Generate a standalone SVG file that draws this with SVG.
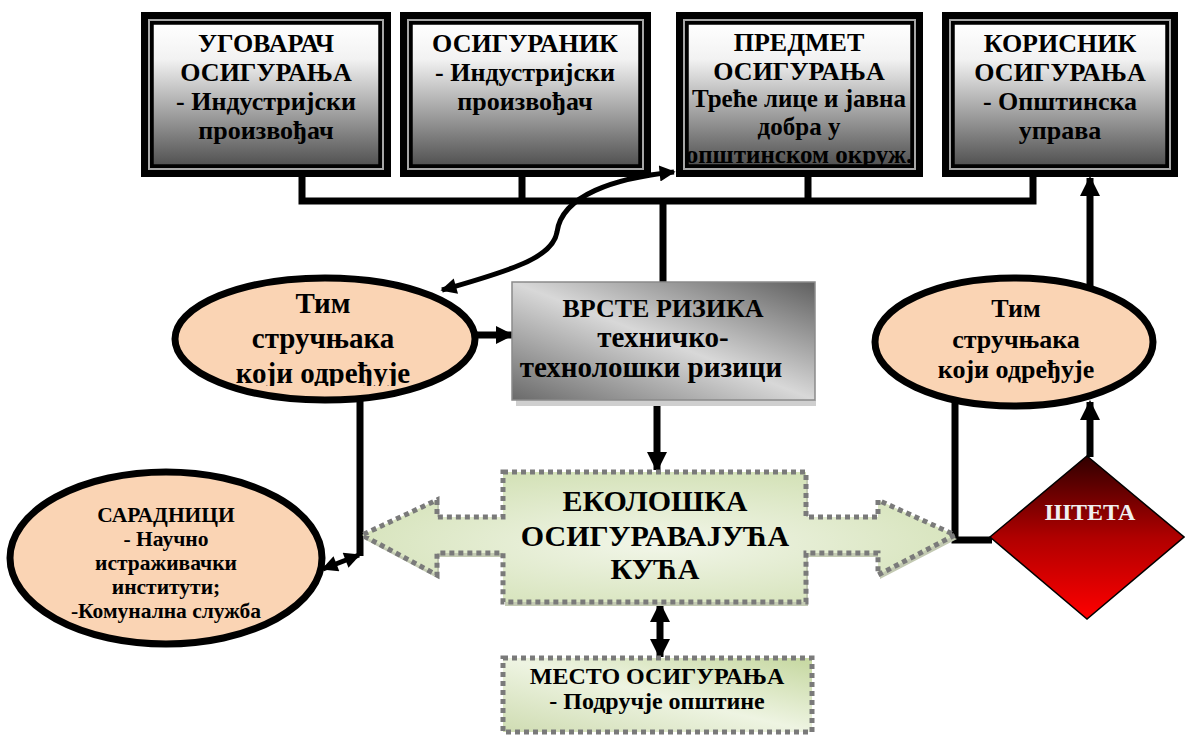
<svg xmlns="http://www.w3.org/2000/svg" width="1185" height="736" viewBox="0 0 1185 736">
  <style>
    .t { font-family: "Liberation Serif", "Times New Roman", serif; font-weight: bold; fill: #000; text-anchor: middle; }
    .frame { fill: #000; }
    .frameLine { fill: none; stroke: #a6a6a6; stroke-width: 2; }
    .inner { fill: url(#boxGrad); stroke: #000; stroke-width: 1.5; }
    .oval { fill: #fad4b4; stroke: #000; stroke-width: 7; }
    .wire { fill: none; stroke: #000; stroke-width: 7; }
    .dotted { stroke: #7a7a7a; stroke-width: 5; stroke-dasharray: 5 4; }
  </style>
  <defs>
    <linearGradient id="boxGrad" x1="0" y1="0" x2="0" y2="1">
      <stop offset="0" stop-color="#ffffff"/>
      <stop offset="0.25" stop-color="#f2f2f2"/>
      <stop offset="1" stop-color="#525252"/>
    </linearGradient>
    <linearGradient id="riskGrad" x1="1" y1="0" x2="0" y2="1">
      <stop offset="0" stop-color="#5f5f5f"/>
      <stop offset="0.5" stop-color="#d8d8d8"/>
      <stop offset="1" stop-color="#6a6a6a"/>
    </linearGradient>
    <radialGradient id="ecoGrad" cx="0.5" cy="0.55" r="0.6">
      <stop offset="0" stop-color="#f2f6e9"/>
      <stop offset="1" stop-color="#d3e1b6"/>
    </radialGradient>
    <linearGradient id="placeGrad" x1="1" y1="0" x2="0" y2="1">
      <stop offset="0" stop-color="#c5d79f"/>
      <stop offset="0.5" stop-color="#eef4e2"/>
      <stop offset="1" stop-color="#cfdcb2"/>
    </linearGradient>
    <linearGradient id="lossGrad" x1="0" y1="0" x2="0" y2="1">
      <stop offset="0" stop-color="#300000"/>
      <stop offset="0.5" stop-color="#b00000"/>
      <stop offset="1" stop-color="#ff0000"/>
    </linearGradient>
    <marker id="head" viewBox="0 0 10 10" refX="9" refY="5" markerUnits="userSpaceOnUse" markerWidth="18" markerHeight="20" orient="auto-start-reverse">
      <path d="M0,0 L10,5 L0,10 Z" fill="#000"/>
    </marker>
    <marker id="headSmall" viewBox="0 0 10 10" refX="9" refY="5" markerUnits="userSpaceOnUse" markerWidth="18" markerHeight="16" orient="auto-start-reverse">
      <path d="M0,0 L10,5 L0,10 Z" fill="#000"/>
    </marker>
    <marker id="headWide" viewBox="0 0 10 10" refX="9" refY="5" markerUnits="userSpaceOnUse" markerWidth="20" markerHeight="27" orient="auto-start-reverse">
      <path d="M0,0 L10,5 L0,10 Z" fill="#000"/>
    </marker>
    <clipPath id="clipSubject"><rect x="688" y="24" width="223" height="141"/></clipPath>
    <clipPath id="clipTeamLeft"><rect x="170" y="270" width="310" height="116"/></clipPath>
    <clipPath id="clipPartners"><rect x="0" y="470" width="340" height="158"/></clipPath>
  </defs>

  <rect width="1185" height="736" fill="#ffffff"/>

  <!-- connectors -->
  <g id="connectors">
    <path class="wire" d="M302,177 V201 M522,177 V201 M808,177 V201 M1033,177 V201 M298.5,201 H1036.5 M663,201 V284"/>
    <path fill="none" stroke="#000" stroke-width="5" d="M442,290 C520,268 553,256 557,232 C562,195 615,178 674,172" marker-start="url(#headSmall)" marker-end="url(#headSmall)"/>
    <path class="wire" d="M476,335 H512" marker-end="url(#head)"/>
    <path class="wire" d="M657,400 V470" marker-end="url(#headWide)"/>
    <path class="wire" d="M660,604 V657" marker-start="url(#headWide)" marker-end="url(#headWide)"/>
    <path class="wire" stroke-width="6" d="M360,398 V556"/>
    <path fill="none" stroke="#000" stroke-width="5" d="M359,555 L323,569" marker-start="url(#headSmall)" marker-end="url(#headSmall)"/>
    <path class="wire" d="M955,401 V540 H992"/>
    <path class="wire" d="M1090,457 V402" marker-end="url(#headWide)"/>
    <path class="wire" d="M1090,288 V178" marker-end="url(#headWide)"/>
  </g>

  <!-- top row -->
  <g id="contractor">
    <rect class="frame" x="141" y="12" width="250" height="165"/>
    <rect class="frameLine" x="149" y="20" width="234" height="149"/>
    <rect class="inner" x="153" y="24" width="226" height="141"/>
    <text class="t" font-size="26" x="266" y="52">УГОВАРАЧ</text>
    <text class="t" font-size="26" x="266" y="81">ОСИГУРАЊА</text>
    <text class="t" font-size="26" x="266" y="110">- Индустријски</text>
    <text class="t" font-size="26" x="266" y="139">произвођач</text>
  </g>
  <g id="insured">
    <rect class="frame" x="400" y="12" width="251" height="165"/>
    <rect class="frameLine" x="408" y="20" width="235" height="149"/>
    <rect class="inner" x="412" y="24" width="227" height="141"/>
    <text class="t" font-size="26" x="525" y="52">ОСИГУРАНИК</text>
    <text class="t" font-size="26" x="525" y="81">- Индустријски</text>
    <text class="t" font-size="26" x="525" y="110">произвођач</text>
  </g>
  <g id="subject">
    <rect class="frame" x="676" y="12" width="247" height="165"/>
    <rect class="frameLine" x="684" y="20" width="231" height="149"/>
    <rect class="inner" x="688" y="24" width="223" height="141"/>
    <g clip-path="url(#clipSubject)">
      <text class="t" font-size="26" x="799" y="51">ПРЕДМЕТ</text>
      <text class="t" font-size="26" x="799" y="80">ОСИГУРАЊА</text>
      <text class="t" font-size="25" x="799" y="107">Треће лице и јавна</text>
      <text class="t" font-size="25" x="799" y="135">добра у</text>
      <text class="t" font-size="25" x="799" y="163">општинском окруж.</text>
    </g>
  </g>
  <g id="beneficiary">
    <rect class="frame" x="942" y="12" width="236" height="165"/>
    <rect class="frameLine" x="950" y="20" width="220" height="149"/>
    <rect class="inner" x="954" y="24" width="212" height="141"/>
    <text class="t" font-size="26" x="1060" y="52">КОРИСНИК</text>
    <text class="t" font-size="26" x="1060" y="81">ОСИГУРАЊА</text>
    <text class="t" font-size="26" x="1060" y="110">- Општинска</text>
    <text class="t" font-size="26" x="1060" y="139">управа</text>
  </g>

  <!-- middle row -->
  <g id="team-left">
    <ellipse class="oval" cx="325" cy="339" rx="150" ry="61"/>
    <g clip-path="url(#clipTeamLeft)">
      <text class="t" font-size="29" x="323" y="313">Тим</text>
      <text class="t" font-size="29" x="323" y="348">стручњака</text>
      <text class="t" font-size="29" x="323" y="383">који одређује</text>
    </g>
  </g>
  <g id="risk-types">
    <rect x="516" y="400" width="300" height="6" fill="#cfcfcf"/>
    <rect x="512" y="282" width="303" height="118" fill="url(#riskGrad)" stroke="#8a8a8a" stroke-width="1.5"/>
    <text class="t" font-size="26" x="663" y="317">ВРСТЕ РИЗИКА</text>
    <text class="t" font-size="29" x="663" y="347">техничко-</text>
    <text class="t" font-size="29" x="651" y="377">технолошки ризици</text>
  </g>
  <g id="team-right">
    <ellipse class="oval" cx="1014" cy="342" rx="139" ry="64"/>
    <text class="t" font-size="26" x="1016" y="317">Тим</text>
    <text class="t" font-size="26" x="1016" y="348">стручњака</text>
    <text class="t" font-size="26" x="1016" y="378">који одређује</text>
  </g>

  <!-- lower row -->
  <g id="partners">
    <ellipse class="oval" cx="166" cy="558" rx="156" ry="86"/>
    <g clip-path="url(#clipPartners)">
      <text class="t" font-size="21.5" x="166" y="522">САРАДНИЦИ</text>
      <text class="t" font-size="21.5" x="166" y="546">- Научно</text>
      <text class="t" font-size="21.5" x="166" y="570">истраживачки</text>
      <text class="t" font-size="21.5" x="166" y="594">институти;</text>
      <text class="t" font-size="21.5" x="166" y="618">-Комунална служба</text>
    </g>
  </g>
  <g id="insurer">
    <path d="M505,476 H808 V521 H880 V504 L957,539 L880,579 V557 H808 V606 H505 V557 H439 V579 L364,539 L439,504 V521 H505 Z" fill="#c3cab2"/>
    <path class="dotted" d="M503,472 H806 V517 H878 V500 L955,535 L878,575 V553 H806 V602 H503 V553 H437 V575 L362,535 L437,500 V517 H503 Z" fill="url(#ecoGrad)"/>
    <text class="t" font-size="30" x="655" y="511">ЕКОЛОШКА</text>
    <text class="t" font-size="30" x="655" y="546">ОСИГУРАВАЈУЋА</text>
    <text class="t" font-size="30" x="655" y="579">КУЋА</text>
  </g>
  <g id="loss">
    <path d="M1087,456 L1184,537 L1087,619 L990,537 Z" fill="url(#lossGrad)" stroke="#000" stroke-width="1.5"/>
    <text class="t" font-size="24" x="1090" y="520" style="fill:#f0f0f0">ШТЕТА</text>
  </g>
  <g id="place">
    <rect class="dotted" x="503" y="658" width="309" height="74" fill="url(#placeGrad)"/>
    <text class="t" font-size="24" x="657" y="684">МЕСТО ОСИГУРАЊА</text>
    <text class="t" font-size="24" x="657" y="709">- Подручје општине</text>
  </g>
</svg>
